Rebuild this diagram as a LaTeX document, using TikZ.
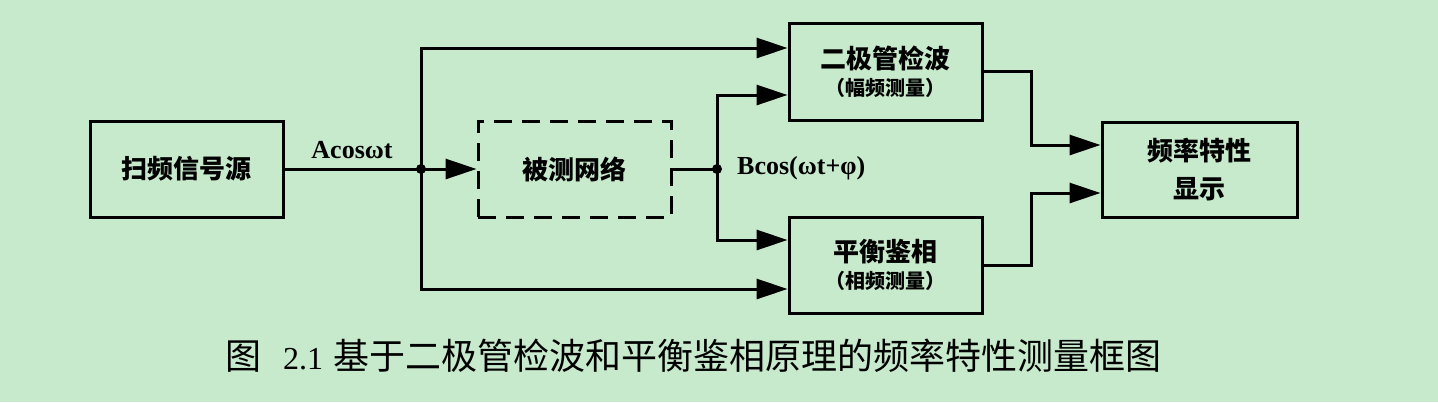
\documentclass[tikz,border=0pt]{standalone}
\usepackage{fontspec}
\setmainfont{Liberation Serif}
\newfontfamily\cjk{Noto Sans CJK SC}
\usetikzlibrary{arrows.meta,calc}
\definecolor{bg}{RGB}{200,234,204}
\begin{document}
\begin{tikzpicture}[x=1pt,y=-1pt,
  box/.style={draw,line width=3pt,minimum width=193pt,minimum height=96pt,inner sep=0pt,align=center,font=\cjk\bfseries\fontsize{26}{30}\selectfont},
  wire/.style={line width=3pt},
  arr/.style={wire,-{Triangle[length=31pt,width=20pt]}},
  dot/.style={circle,fill,inner sep=0pt,minimum size=10pt},
  lab/.style={inner sep=0pt,font=\bfseries\fontsize{26}{30}\selectfont}
]
\fill[bg] (0,0) rectangle (1438,402);
\useasboundingbox (0,0) rectangle (1438,402);

\node[box] (src) at (186.5,169) {扫频信号源};
\node[box,dash pattern=on 18pt off 10pt] (dut) at (574.5,169) {被测网络};
\node[box,minimum height=97pt] (det) at (885.5,71.5) {二极管检波\\[-3pt]{\fontsize{20}{22}\selectfont （幅频测量）}};
\node[box] (pha) at (885.5,265) {平衡鉴相\\[-3pt]{\fontsize{20}{22}\selectfont （相频测量）}};
\node[box,minimum width=195pt,minimum height=95pt,font=\cjk\bfseries\fontsize{26}{38}\selectfont] (disp) at (1199.5,169.5) {频率特性\\显示};

\coordinate (j1) at (421,169);
\coordinate (j2) at (717,169);

\draw[wire] (src.east) -- (j1);
\draw[arr] (j1) -- (dut.west);
\draw[arr] (j1) |- ([yshift=23.5pt]det.west);
\draw[arr] (j1) |- ([yshift=-24pt]pha.west);
\draw[wire] (dut.east) -- (j2);
\draw[arr] (j2) |- ([yshift=-23.5pt]det.west);
\draw[arr] (j2) |- ([yshift=25pt]pha.west);
\draw[arr] (det.east) -- ++(48,0) |- ([yshift=24.5pt]disp.west);
\draw[arr] (pha.east) -- ++(48,0) |- ([yshift=-23.5pt]disp.west);

\node[dot] (d1) at (j1) {};
\node[dot] (d2) at (j2) {};

\node[lab] (la) at (352,150) {Acosωt};
\node[lab,anchor=west] (lb) at (737,168) {Bcos(ωt+φ)};

\node[anchor=west,inner sep=0pt] (cap) at (225,356) {\cjk\fontsize{36}{40}\selectfont 图\hspace{22pt}{\rmfamily\fontsize{32}{36}\selectfont 2.1}\hspace{10pt}基于二极管检波和平衡鉴相原理的频率特性测量框图};
\end{tikzpicture}
\end{document}
